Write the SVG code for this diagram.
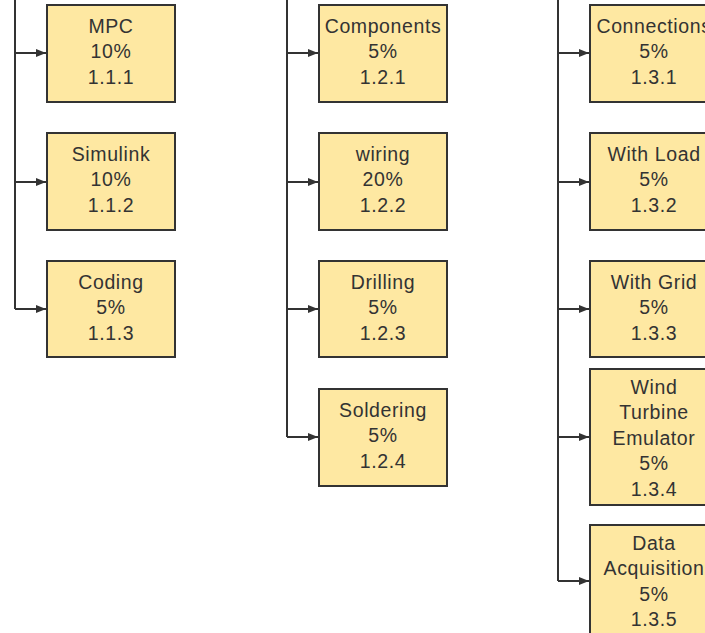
<svg xmlns="http://www.w3.org/2000/svg" width="705" height="633" viewBox="0 0 705 633">
  <style>
    .box { fill: #fee8a2; stroke: #333333; stroke-width: 2; }
    .lbl { font-family: "Liberation Sans", Arial, sans-serif; font-size: 19.5px; letter-spacing: 0.6px; fill: #333333; text-anchor: middle; }
    .wire { fill: none; stroke: #333333; stroke-width: 2; }
  </style>
  <defs>
    <marker id="arrow" markerWidth="10" markerHeight="8" refX="10" refY="4" orient="auto" markerUnits="userSpaceOnUse">
      <path d="M0,0 L10,4 L0,8 Z" fill="#333333"/>
    </marker>
  </defs>
  <rect width="705" height="633" fill="#ffffff"/>

  <!-- connectors -->
  <g id="connectors">
    <path class="wire" d="M15,0 V309"/>
    <path class="wire" d="M15,53 H46" marker-end="url(#arrow)"/>
    <path class="wire" d="M15,182 H46" marker-end="url(#arrow)"/>
    <path class="wire" d="M15,309 H46" marker-end="url(#arrow)"/>

    <path class="wire" d="M287,0 V437"/>
    <path class="wire" d="M287,53 H318" marker-end="url(#arrow)"/>
    <path class="wire" d="M287,182 H318" marker-end="url(#arrow)"/>
    <path class="wire" d="M287,309 H318" marker-end="url(#arrow)"/>
    <path class="wire" d="M287,437 H318" marker-end="url(#arrow)"/>

    <path class="wire" d="M558,0 V581"/>
    <path class="wire" d="M558,53 H589" marker-end="url(#arrow)"/>
    <path class="wire" d="M558,182 H589" marker-end="url(#arrow)"/>
    <path class="wire" d="M558,309 H589" marker-end="url(#arrow)"/>
    <path class="wire" d="M558,437 H589" marker-end="url(#arrow)"/>
    <path class="wire" d="M558,581 H589" marker-end="url(#arrow)"/>
  </g>

  <!-- column 1.1 -->
  <g id="n111">
    <rect class="box" x="47" y="5" width="128" height="97"/>
    <text class="lbl" x="111" y="32.5">MPC</text>
    <text class="lbl" x="111" y="58">10%</text>
    <text class="lbl" x="111" y="83.5">1.1.1</text>
  </g>
  <g id="n112">
    <rect class="box" x="47" y="133" width="128" height="97"/>
    <text class="lbl" x="111" y="160.5">Simulink</text>
    <text class="lbl" x="111" y="186">10%</text>
    <text class="lbl" x="111" y="211.5">1.1.2</text>
  </g>
  <g id="n113">
    <rect class="box" x="47" y="261" width="128" height="96"/>
    <text class="lbl" x="111" y="288.5">Coding</text>
    <text class="lbl" x="111" y="314">5%</text>
    <text class="lbl" x="111" y="339.5">1.1.3</text>
  </g>

  <!-- column 1.2 -->
  <g id="n121">
    <rect class="box" x="319" y="5" width="128" height="97"/>
    <text class="lbl" x="383" y="32.5">Components</text>
    <text class="lbl" x="383" y="58">5%</text>
    <text class="lbl" x="383" y="83.5">1.2.1</text>
  </g>
  <g id="n122">
    <rect class="box" x="319" y="133" width="128" height="97"/>
    <text class="lbl" x="383" y="160.5">wiring</text>
    <text class="lbl" x="383" y="186">20%</text>
    <text class="lbl" x="383" y="211.5">1.2.2</text>
  </g>
  <g id="n123">
    <rect class="box" x="319" y="261" width="128" height="96"/>
    <text class="lbl" x="383" y="288.5">Drilling</text>
    <text class="lbl" x="383" y="314">5%</text>
    <text class="lbl" x="383" y="339.5">1.2.3</text>
  </g>
  <g id="n124">
    <rect class="box" x="319" y="389" width="128" height="97"/>
    <text class="lbl" x="383" y="416.5">Soldering</text>
    <text class="lbl" x="383" y="442">5%</text>
    <text class="lbl" x="383" y="467.5">1.2.4</text>
  </g>

  <!-- column 1.3 -->
  <g id="n131">
    <rect class="box" x="590" y="5" width="128" height="97"/>
    <text class="lbl" x="654" y="32.5">Connections</text>
    <text class="lbl" x="654" y="58">5%</text>
    <text class="lbl" x="654" y="83.5">1.3.1</text>
  </g>
  <g id="n132">
    <rect class="box" x="590" y="133" width="128" height="97"/>
    <text class="lbl" x="654" y="160.5">With Load</text>
    <text class="lbl" x="654" y="186">5%</text>
    <text class="lbl" x="654" y="211.5">1.3.2</text>
  </g>
  <g id="n133">
    <rect class="box" x="590" y="261" width="128" height="96"/>
    <text class="lbl" x="654" y="288.5">With Grid</text>
    <text class="lbl" x="654" y="314">5%</text>
    <text class="lbl" x="654" y="339.5">1.3.3</text>
  </g>
  <g id="n134">
    <rect class="box" x="590" y="369" width="128" height="136"/>
    <text class="lbl" x="654" y="393.5">Wind</text>
    <text class="lbl" x="654" y="419">Turbine</text>
    <text class="lbl" x="654" y="444.5">Emulator</text>
    <text class="lbl" x="654" y="470">5%</text>
    <text class="lbl" x="654" y="495.5">1.3.4</text>
  </g>
  <g id="n135">
    <rect class="box" x="590" y="525" width="128" height="120"/>
    <text class="lbl" x="654" y="549.5">Data</text>
    <text class="lbl" x="654" y="575">Acquisition</text>
    <text class="lbl" x="654" y="600.5">5%</text>
    <text class="lbl" x="654" y="626">1.3.5</text>
  </g>
</svg>
